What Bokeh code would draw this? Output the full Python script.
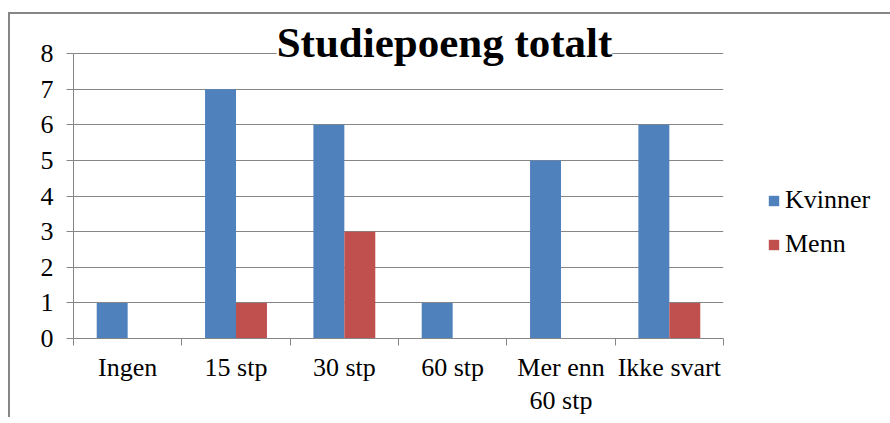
from bokeh.plotting import figure
from bokeh.models import (Range1d, FixedTicker, LinearAxis, Legend, LegendItem, Label,
                          ColumnDataSource)
from bokeh.embed import file_html
from bokeh.resources import INLINE

categories = ["Ingen", "15 stp", "30 stp", "60 stp", "Mer enn\n60 stp", "Ikke svart"]
kvinner = [1, 7, 6, 1, 5, 6]
menn = [0, 1, 3, 0, 0, 1]
y_ticks = [0, 1, 2, 3, 4, 5, 6, 7, 8]
title_text = "Studiepoeng totalt"

BLUE = "#4F81BD"
RED = "#C0504D"
GRAY = "#868686"
FONT = "'Liberation Serif'"
LEGEND_FONT = "'Times New Roman', 'Liberation Serif', serif"

n = len(categories)
bw = 0.2857
centers = [i + 0.5 for i in range(n)]
src = ColumnDataSource(dict(x1=[c - bw / 2 for c in centers], x2=[c + bw / 2 for c in centers],
                            kvinner=kvinner, menn=menn))

# plot area: 285 px for 0..8, frame extended upward by 39 px so the title is not clipped
plot_h = 285
extra_top = 39
y_max = max(y_ticks)
y_end = y_max * (plot_h + extra_top) / plot_h

p = figure(x_range=Range1d(0, n), y_range=Range1d(0, y_end),
           frame_width=650, frame_height=plot_h + extra_top,
           output_backend="svg", toolbar_location=None,
           x_axis_location=None, y_axis_location=None,
           min_border_left=63, min_border_top=0, min_border_right=165, min_border_bottom=60)
p.outline_line_color = None
p.background_fill_color = "white"
p.border_fill_color = "white"
p.styles = {"position": "relative", "top": "12px", "left": "8px",
            "border-top": "2px solid #868686", "border-left": "2px solid #868686"}

p.xgrid.visible = False
p.ygrid.ticker = FixedTicker(ticks=y_ticks)
p.ygrid.grid_line_color = GRAY
p.ygrid.grid_line_width = 1

r1 = p.vbar(x="x1", top="kvinner", width=bw, source=src, fill_color=BLUE, line_color=None)
r2 = p.vbar(x="x2", top="menn", width=bw, source=src, fill_color=RED, line_color=None)

yax = LinearAxis(ticker=FixedTicker(ticks=y_ticks), bounds=(0, y_max), axis_line_color=GRAY,
                 major_tick_line_color=GRAY, major_tick_in=0, major_tick_out=7,
                 minor_tick_line_color=None, major_label_standoff=13,
                 major_label_text_font=FONT, major_label_text_font_size="26px",
                 major_label_text_color="black")
p.add_layout(yax, "left")

xax = LinearAxis(ticker=FixedTicker(ticks=centers, minor_ticks=list(range(n + 1))),
                 major_label_overrides={c: lab for c, lab in zip(centers, categories)},
                 axis_line_color=GRAY, major_tick_line_color=None,
                 major_tick_in=0, major_tick_out=0,
                 minor_tick_line_color=GRAY, minor_tick_in=0, minor_tick_out=7,
                 major_label_standoff=7, major_label_text_font=FONT,
                 major_label_text_font_size="26px", major_label_text_color="black",
                 major_label_text_line_height=1.15)
p.add_layout(xax, "below")

title = Label(x=n / 2, y=y_max, x_offset=46, y_offset=11, text=title_text,
              text_font=FONT, text_font_style="bold", text_font_size="43px",
              text_align="center", text_baseline="middle", text_color="black",
              background_fill_color="white")
p.add_layout(title)

legend = Legend(items=[LegendItem(label="Kvinner", renderers=[r1]),
                       LegendItem(label="Menn", renderers=[r2])],
                location=(44, 79), border_line_color=None, background_fill_alpha=0,
                padding=0, margin=0, spacing=14, glyph_width=13, glyph_height=13,
                label_height=20, label_standoff=5, label_text_font=LEGEND_FONT,
                label_text_font_style="normal",
                label_text_font_size="26px", label_text_color="black")
p.add_layout(legend, "right")

open("out.html", "w").write(file_html(p, INLINE))
